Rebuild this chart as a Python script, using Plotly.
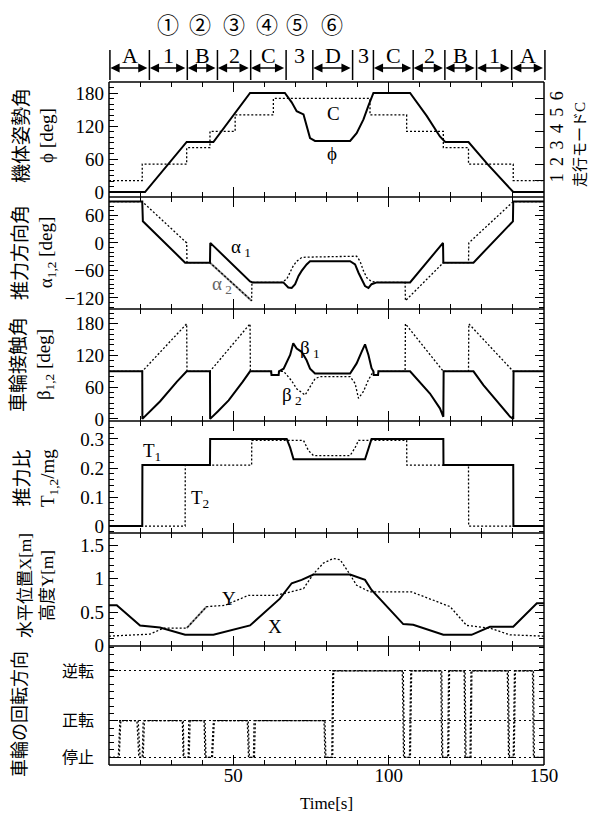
import plotly.graph_objects as go

# ---------------- data ----------------
T_RANGE = [10, 150]

# panel 1 : body attitude angle phi [deg] and running mode C
phi_t = [10, 21.6, 35.0, 43.6, 55.4, 66.6, 68.8, 70.4, 72.6, 73.6, 74.7, 76.3, 87.6, 89.7, 90.8,
         91.9, 93.5, 95.1, 106.9, 112.3, 116.5, 118.2, 125.7, 131.6, 140.1, 150]
phi_v = [0, 0, 91, 91, 180, 180, 163, 147, 141, 120, 98, 93, 93, 107, 120,
         132, 157, 180, 180, 138, 101, 91, 91, 52, 0, 0]
mode_t = [10, 20.7, 35.0, 42.5, 50.6, 62.9, 94.0, 105.8, 117.6, 125.7, 140.1, 150]
mode_v = [1, 2, 3, 4, 5, 6, 5, 4, 3, 2, 1, 1]

# panel 2 : thrust direction alpha1, alpha2 [deg]
a1_t = [10, 20.7, 20.9, 34.5, 42.5, 42.6, 55.4, 56.2, 66.1, 67.7, 68.8, 69.9, 71.0, 72.0, 73.6, 74.7,
        87.6, 89.2, 90.3, 91.3, 92.4, 93.5, 94.5, 96.2, 106.9, 117.5, 117.6, 127.3, 140.0, 140.1, 150]
a1_v = [90, 90, 47, -43, -43, 0, -84, -86, -86, -97, -98, -90, -72, -61, -47, -40,
        -40, -47, -65, -79, -94, -98, -90, -86, -86, 0, -43, -43, 47, 90, 90]
a2_t = [10, 20.7, 35.0, 35.1, 42.5, 55.9, 56.0, 65.6, 67.2, 68.3, 69.3, 70.4, 72.0, 73.6,
        89.7, 90.8, 91.9, 93.0, 94.5, 96.2, 105.3, 105.4, 117.6, 125.7, 125.8, 140.1, 150]
a2_v = [90, 90, 0, -43, -43, -126, -86, -86, -79, -65, -50, -40, -32, -31,
        -29, -40, -61, -76, -84, -86, -86, -126, -43, -43, 0, 90, 90]

# panel 3 : wheel contact angle beta1, beta2 [deg]
b1_t = [10, 20.7, 20.75, 23.2, 26.4, 31.8, 35.0, 42.5, 42.55, 45.0, 48.5, 53.0, 55.4, 62.2, 62.3,
        64.6, 64.7, 66.2, 68.3, 69.3, 70.4, 72.0, 73.6, 74.7, 76.3, 87.6, 89.7, 91.3, 92.4, 93.5,
        94.5, 95.1, 95.2, 96.6, 96.7, 106.9, 110.1, 113.3, 116.5, 117.6, 117.7, 127.3, 130.5,
        134.8, 139.1, 140.1, 140.2, 150]
b1_v = [90, 90, 0, 14, 33, 70, 90, 90, 0, 14, 35, 70, 90, 90, 83,
        83, 90, 95, 121, 143, 133, 127, 111, 95, 86, 86, 105, 127, 141, 121,
        96, 90, 83, 83, 90, 90, 70, 48, 20, 4, 90, 90, 64,
        33, 4, 0, 90, 90]
b2_t = [10, 20.7, 35.0, 35.1, 42.5, 55.4, 55.5, 62.2, 62.3, 64.6, 64.7, 66.2, 68.8, 70.4, 73.1,
        74.7, 76.3, 77.9, 87.6, 89.2, 90.3, 91.9, 93.5, 95.1, 95.2, 96.6, 96.7, 105.3, 105.4,
        117.6, 125.7, 125.8, 140.1, 150]
b2_v = [90, 90, 180, 90, 90, 180, 90, 90, 83, 83, 90, 90, 72, 57, 45,
        61, 76, 80, 80, 67, 39, 52, 74, 90, 83, 83, 90, 90, 180,
        90, 90, 180, 90, 90]

# panel 4 : thrust ratio T1, T2 / mg
T1_t = [10, 20.7, 20.75, 42.5, 42.55, 67.2, 68.3, 69.4, 92.4, 93.5, 94.5, 117.6, 117.65, 140.1, 140.15, 150]
T1_v = [0, 0, 0.21, 0.21, 0.30, 0.30, 0.27, 0.23, 0.23, 0.27, 0.30, 0.30, 0.21, 0.21, 0, 0]
T2_t = [10, 34.5, 34.55, 55.9, 55.95, 72.6, 74.2, 75.8, 87.6, 89.2, 90.3, 105.8, 105.85, 125.7, 125.75, 150]
T2_v = [0, 0, 0.21, 0.21, 0.295, 0.295, 0.26, 0.243, 0.243, 0.27, 0.295, 0.295, 0.21, 0.21, 0, 0]

# panel 5 : horizontal position X [m] and height Y [m]
X_t = [10, 12.5, 20.0, 26.4, 34.5, 43.6, 55.4, 65.0, 68.8, 72.0, 75.8, 87.6, 92.4, 94.5,
       104.7, 107.9, 117.6, 126.7, 132.6, 140.1, 147.7, 150]
X_v = [0.60, 0.60, 0.30, 0.27, 0.16, 0.16, 0.30, 0.70, 0.93, 0.98, 1.06, 1.06, 0.98, 0.83,
       0.32, 0.31, 0.16, 0.16, 0.28, 0.28, 0.63, 0.63]
Y_t = [10, 23.2, 27.5, 35.0, 41.4, 47.3, 54.9, 64.0, 68.3, 72.6, 75.8, 79.0, 82.2, 84.4,
       87.0, 89.7, 94.0, 107.4, 119.8, 125.1, 132.6, 139.0, 150]
Y_v = [0.14, 0.17, 0.26, 0.26, 0.58, 0.60, 0.75, 0.75, 0.80, 0.85, 1.07, 1.23, 1.30, 1.28,
       1.10, 0.90, 0.80, 0.80, 0.58, 0.30, 0.26, 0.16, 0.14]

# panel 6 : wheel rotation direction
STATE_LEVEL = {"停止": 0, "正転": 1, "逆転": 2.36}
STATE_ORDER = ["停止", "正転", "逆転"]
w1_t = [10, 13.0, 13.5, 19.4, 20.0, 20.7, 21.0, 33.9, 34.1, 35.5, 35.7, 40.9, 41.2, 43.0, 43.6,
        54.8, 55.2, 56.5, 56.7, 79.5, 79.8, 81.7, 82.0, 104.7, 105.1, 106.7, 107.1, 117.1, 117.4,
        119.0, 119.3, 124.6, 124.9, 126.2, 126.5, 138.5, 138.9, 140.1, 140.5, 146.6, 146.9, 150]
w1_s = ["停止", "停止", "正転", "正転", "停止", "停止", "正転", "正転", "停止", "停止", "正転",
        "正転", "停止", "停止", "正転", "正転", "停止", "停止", "正転", "正転", "停止", "停止",
        "逆転", "逆転", "停止", "停止", "逆転", "逆転", "停止", "停止", "逆転", "逆転", "停止",
        "停止", "逆転", "逆転", "停止", "停止", "逆転", "逆転", "停止", "停止"]
w2_t = [10, 13.3, 13.8, 19.0, 19.6, 21.0, 21.4, 33.6, 33.9, 35.8, 36.1, 40.6, 40.9, 43.3, 43.9,
        54.5, 54.9, 56.8, 57.1, 79.2, 79.5, 82.0, 82.3, 104.4, 104.8, 107.0, 107.4, 116.8, 117.1,
        119.3, 119.6, 124.3, 124.6, 126.5, 126.8, 138.2, 138.6, 140.4, 140.8, 146.3, 146.6, 150]
w2_s = w1_s

# top header: running phases
seg_edges = [10.3, 23.0, 35.2, 44.9, 55.6, 67.0, 75.6, 88.4, 95.1, 107.9, 118.1, 128.3, 139.6, 150.3]
seg_labels = ["A", "1", "B", "2", "C", "3", "D", "3", "C", "2", "B", "1", "A"]
seg_arrow = [True, True, True, True, True, False, True, False, True, True, True, True, True]
circ_labels = ["①", "②", "③", "④", "⑤", "⑥"]
circ_t = [29.0, 39.3, 50.3, 60.9, 70.6, 81.9]

# ---------------- layout geometry ----------------
W, H = 593, 821
ML, MR, MT, MB = 109, 49, 82, 56
PW = W - ML - MR
PH = H - MT - MB
panel_px = [82, 197, 309, 421, 533, 646, 765]


def py(ypx):
    return (H - MB - ypx) / PH


def px(xpx):
    return (xpx - ML) / PW


def tx(t):
    return (t - T_RANGE[0]) / (T_RANGE[1] - T_RANGE[0])


domains = [[py(panel_px[i + 1]), py(panel_px[i])] for i in range(6)]

SERIF = "Liberation Serif, Noto Sans CJK JP, serif"
CJK = "Noto Sans CJK JP, sans-serif"
SOLID = dict(color="black", width=2)
DOT = dict(color="black", width=1.3, dash="2px,2px")
GRAY = dict(color="#8a8a8a", width=2)

fig = go.Figure()


def add(x, y, line, yaxis, xaxis, shape="linear"):
    fig.add_trace(go.Scatter(x=x, y=y, mode="lines", line=dict(line, shape=shape),
                             xaxis=xaxis, yaxis=yaxis, showlegend=False, hoverinfo="skip"))


add(phi_t, phi_v, SOLID, "y", "x")
add(mode_t, mode_v, DOT, "y7", "x", shape="hv")
add(a2_t[4:6], a2_v[4:6], GRAY, "y2", "x2")
add(a2_t, a2_v, DOT, "y2", "x2")
add(a1_t, a1_v, SOLID, "y2", "x2")
add(b2_t, b2_v, DOT, "y3", "x3")
add(b1_t, b1_v, SOLID, "y3", "x3")
add(T2_t, T2_v, DOT, "y4", "x4")
add(T1_t, T1_v, SOLID, "y4", "x4")
add(Y_t[3:5], Y_v[3:5], GRAY, "y5", "x5")
add(Y_t, Y_v, DOT, "y5", "x5")
add(X_t, X_v, SOLID, "y5", "x5")
add(w1_t, [STATE_LEVEL[s] for s in w1_s], DOT, "y6", "x6")
add(w2_t, [STATE_LEVEL[s] for s in w2_s], DOT, "y6", "x6")

tickfont = dict(family=SERIF, size=19, color="black")
common_x = dict(range=T_RANGE, showline=False, mirror="ticks",
                ticks="inside", tickcolor="black", tickwidth=1.2, ticklen=10, dtick=50, tick0=0,
                minor=dict(dtick=10, ticklen=5, ticks="inside", tickcolor="black", tickwidth=1.2),
                showgrid=False, zeroline=False, showticklabels=False, tickfont=tickfont)

layout = dict(width=W, height=H, margin=dict(l=ML, r=MR, t=MT, b=MB),
              paper_bgcolor="white", plot_bgcolor="white", showlegend=False,
              font=dict(family=SERIF, color="black", size=16))

for i in range(6):
    key = "xaxis" if i == 0 else f"xaxis{i + 1}"
    d = dict(common_x, anchor="y" if i == 0 else f"y{i + 1}", domain=[0, 1])
    if i > 0:
        d["matches"] = "x"
    if i == 5:
        d["showticklabels"] = True
        d["tickvals"] = [50, 100, 150]
        d["ticklabelstandoff"] = -3
        d["title"] = dict(text="Time[s]", font=dict(family=SERIF, size=17), standoff=12)
    layout[key] = d


def yax(i, rng, tickvals, ticktext=None, minor_dtick=None, mirror="ticks", font=None, standoff=4):
    d = dict(domain=domains[i], range=rng, tickvals=tickvals, anchor="x" if i == 0 else f"x{i + 1}",
             showline=False, mirror=mirror, ticks="inside",
             ticklen=9, tickwidth=1.2, tickcolor="black", showgrid=False, zeroline=False,
             tickfont=font or tickfont, ticklabelstandoff=standoff)
    if ticktext is not None:
        d["ticktext"] = ticktext
    if minor_dtick:
        d["minor"] = dict(dtick=minor_dtick, ticklen=5, ticks="inside", tickcolor="black", tickwidth=1)
    return d


layout["yaxis"] = yax(0, [-9, 200], [0, 60, 120, 180], minor_dtick=10, mirror=False)
layout["yaxis2"] = yax(1, [-144, 100], [-120, -60, 0, 60], minor_dtick=10)
layout["yaxis3"] = yax(2, [-4, 208], [0, 60, 120, 180], minor_dtick=10)
layout["yaxis4"] = yax(3, [-0.024, 0.362], [0, 0.1, 0.2, 0.3], minor_dtick=0.02)
layout["yaxis5"] = yax(4, [-0.007, 1.68], [0, 0.5, 1, 1.5], ["0", "0.5", "1", "1.5"], minor_dtick=0.1)
y6 = yax(5, [-0.21, 3.04], [STATE_LEVEL[s] for s in STATE_ORDER], STATE_ORDER, minor_dtick=0.2,
         font=dict(family=CJK, size=16, color="black"), standoff=14)
y6.update(showgrid=True, gridcolor="black", griddash="2px,3px", gridwidth=1)
layout["yaxis6"] = y6
layout["yaxis7"] = dict(overlaying="y", side="right", anchor="x", range=[0, 7], tickvals=[1, 2, 3, 4, 5, 6],
                        showline=False, ticks="inside", ticklen=9,
                        tickwidth=1.2, tickcolor="black", showgrid=False, zeroline=False,
                        tickangle=-90, tickfont=dict(family=SERIF, size=18, color="black"))

fig.update_layout(**layout)

ann = []
shapes = []
FRAME = dict(color="black", width=1.5)
# panel frames (one line per boundary)
for b in panel_px:
    shapes.append(dict(type="line", xref="paper", yref="paper", x0=0, x1=1, y0=py(b), y1=py(b), line=FRAME))
for xv in (0, 1):
    shapes.append(dict(type="line", xref="paper", yref="paper", x0=xv, x1=xv, y0=0, y1=1, line=FRAME))

# header
yb_top, yb_bot, y_arrow, y_lab, y_circ = py(50), py(80), py(68), py(55), py(23)
for e in seg_edges:
    shapes.append(dict(type="line", xref="paper", yref="paper", x0=tx(e), x1=tx(e), y0=yb_bot, y1=yb_top,
                       line=dict(color="black", width=1.5)))
for i, lab in enumerate(seg_labels):
    a, b = seg_edges[i], seg_edges[i + 1]
    ann.append(dict(xref="paper", yref="paper", x=tx((a + b) / 2), y=y_lab, text=lab, showarrow=False,
                    font=dict(family=SERIF, size=22), xanchor="center", yanchor="middle"))
    if seg_arrow[i]:
        ann.append(dict(xref="x", yref="paper", x=a + 0.15, y=y_arrow, axref="x", ayref="pixel",
                        ax=b - 0.15, ay=0, text="", showarrow=True, arrowside="end+start",
                        arrowhead=2, arrowsize=1.15, arrowwidth=1.6, arrowcolor="black",
                        standoff=0, startstandoff=0))
for lab, t in zip(circ_labels, circ_t):
    ann.append(dict(xref="paper", yref="paper", x=tx(t), y=y_circ, text=lab, showarrow=False,
                    font=dict(family=CJK, size=22), xanchor="center", yanchor="middle"))


# in-plot labels
def lab(x, y, text, xr, yr, size=19, color="black"):
    ann.append(dict(xref=xr, yref=yr, x=x, y=y, text=text, showarrow=False,
                    font=dict(family=SERIF, size=size, color=color), xanchor="center", yanchor="middle"))


lab(82.2, 143, "C", "x", "y")
lab(81.7, 70, "ϕ", "x", "y")
lab(52.5, -12, "α<sub> 1</sub>", "x2", "y2")
lab(46.5, -92, "α<sub> 2</sub>", "x2", "y2", color="#666")
lab(74.8, 133, "β<sub> 1</sub>", "x3", "y3")
lab(68.8, 43, "β<sub> 2</sub>", "x3", "y3")
lab(23.8, 0.255, "T<sub>1</sub>", "x4", "y4")
lab(39.3, 0.093, "T<sub>2</sub>", "x4", "y4")
lab(48.6, 0.70, "Y", "x5", "y5")
lab(63.4, 0.28, "X", "x5", "y5")


# axis titles (rotated)
def vtitle(xpx, ypx, text, size=19):
    ann.append(dict(xref="paper", yref="paper", x=px(xpx), y=py(ypx), text=text, showarrow=False,
                    textangle=-90, font=dict(family=SERIF, size=size), xanchor="center",
                    yanchor="middle", align="center"))


vtitle(34, 136, "機体姿勢角<br>ϕ [deg]")
vtitle(34, 253, "推力方向角<br>α<sub>1,2</sub> [deg]")
vtitle(32, 365, "車輪接触角<br>β<sub>1,2</sub> [deg]")
vtitle(36, 478, "推力比<br>T<sub>1,2</sub>/mg")
vtitle(36, 586, "水平位置X[m]<br>高度Y[m]", size=17)
vtitle(20, 714, "車輪の回転方向", size=18)
vtitle(580, 145, "走行モードC", size=15)

fig.update_layout(annotations=ann, shapes=shapes)
fig.write_html("out.html", config={"displayModeBar": False},
               post_script="document.body.style.margin='0';document.body.style.overflow='hidden';")
